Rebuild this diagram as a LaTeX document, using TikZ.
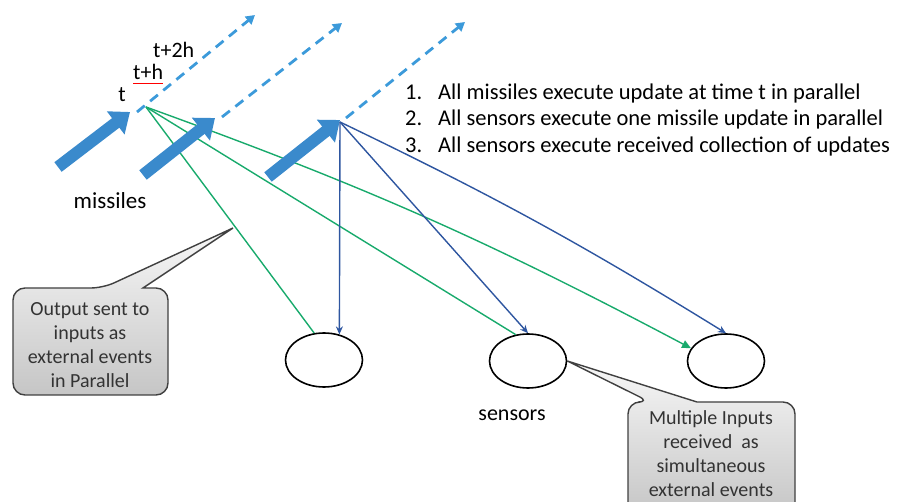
\documentclass[tikz,border=0pt]{standalone}
\usepackage{fontspec}
\setmainfont{Carlito}
\usepackage{xcolor}
\usetikzlibrary{arrows.meta,shapes.geometric,positioning}
\definecolor{missileblue}{RGB}{58,138,204}
\definecolor{pathblue}{RGB}{60,154,218}
\definecolor{sendgreen}{RGB}{24,170,108}
\definecolor{recvblue}{RGB}{46,86,160}
\tikzset{
missile/.style={line width=12pt, missileblue, -{Triangle[length=18pt,width=28pt]}},
future/.style={line width=2.8pt, pathblue, dash pattern=on 10pt off 7pt, -{Triangle[length=9pt,width=10pt]}},
send/.style={line width=1.4pt, sendgreen},
recv/.style={line width=1.4pt, recvblue, -{Stealth[length=8pt,width=7pt]}},
sensor/.style={ellipse, draw, line width=1.6pt, minimum width=77pt, minimum height=54pt, inner sep=0pt},
note/.style={draw=black!75, line width=1.4pt, top color=gray!6, bottom color=gray!45},
lbl/.style={inner sep=0pt, font=\fontsize{22}{26}\selectfont},
item/.style={inner sep=0pt, anchor=base west, font=\fontsize{22.5}{26}\selectfont},
notetext/.style={inner sep=0pt, align=center, text=black!80, font=\fontsize{20}{24}\selectfont}
}
\begin{document}
\begin{tikzpicture}[x=1pt,y=-1pt]
\useasboundingbox (0,0) rectangle (897,502);
\clip (0,0) rectangle (897,502);
\coordinate (a1) at (58,167);
\coordinate (m1) at (130,112);
\coordinate (a2) at (143,175);
\coordinate (m2) at (215,118);
\coordinate (a3) at (268,177);
\coordinate (m3) at (340,120);
\coordinate (g) at (146,107);
\coordinate (r) at (340,122);
\coordinate (ptr) at (233,228);

\node[sensor] (s1) at (324,360) {};
\node[sensor] (s2) at (528,361) {};
\node[sensor] (s3) at (726,361) {};

\draw[send] (g) -- (s1.110);
\draw[send] (g) -- (s2.115);
\draw[send, -{Triangle[length=9pt,width=8pt]}] (g) to[bend left=4] (s3.160);

\draw[missile] (a1) -- (m1);
\draw[missile] (a2) -- (m2);
\draw[missile] (a3) -- (m3);
\draw[future] (137,112) -- (255,15);
\draw[future] (222,117) -- (342,23);
\draw[future] (346,118) -- (465,22);

\draw[recv] (r) -- (s1.59);
\draw[recv] (r) -- (s2.north);
\draw[recv] (r) to[bend left=3] (s3.north);

\node[lbl, anchor=base] (t0) at (122,102) {t};
\node[lbl, anchor=base west] (t1) at (133,80) {t+h};
\node[lbl, anchor=base west] (t2) at (153,58) {t+2h};
\draw[red, line width=0.9pt] ([yshift=-3pt]t1.base west) -- ([yshift=-3pt]t1.base east);

\node[lbl, font=\fontsize{23}{26}\selectfont] (ml) at (110,201) {missiles};
\node[lbl] (sl) at (512,415) {sensors};

\foreach \i/\txt in {1/All missiles execute update at time t in parallel,
  2/All sensors execute one missile update in parallel,
  3/All sensors execute received collection of updates}{
  \node[item] (num\i) at (405,73+26.5*\i) {\i.};
  \node[item] (item\i) at (438,73+26.5*\i) {\txt};
}

\draw[note, rounded corners=12pt] (13,340) -- (13,288) -- (103,288) [sharp corners] -- (ptr) -- (143,288) [rounded corners=12pt] -- (168,288) -- (168,395) -- (13,395) -- cycle;
\node[notetext, anchor=base] (out) at (90,388) {Output sent to\\inputs as\\external events\\in Parallel};

\draw[note, rounded corners=12pt] (628,460) -- (628,402) -- (650,402) [sharp corners] -- (s2.east) -- (697,402) [rounded corners=12pt] -- (795,402) -- (795,515) -- (628,515) -- cycle;
\node[notetext, anchor=base] (in) at (711,496) {Multiple Inputs\\received\ \ as\\simultaneous\\external events};
\end{tikzpicture}
\end{document}
